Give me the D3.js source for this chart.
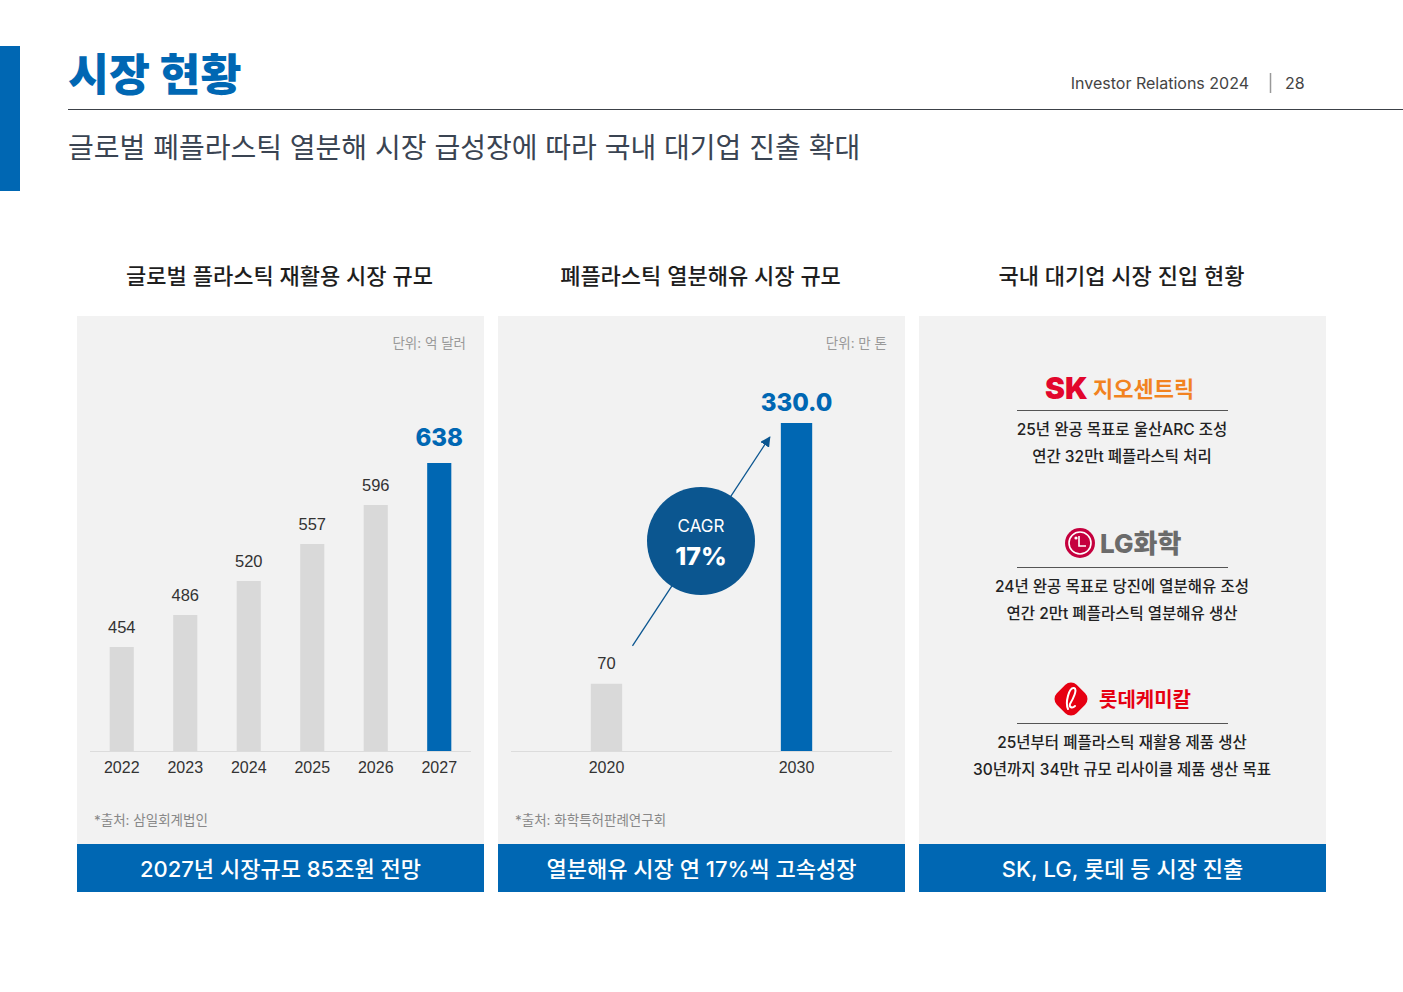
<!DOCTYPE html>
<html><head><meta charset="utf-8">
<script src="https://cdn.jsdelivr.net/npm/d3@7"></script>
<style>
html,body{margin:0;padding:0;background:#fff;}
svg{display:block;}
text{font-family:Inter,"Noto Sans CJK KR",sans-serif;}
</style></head>
<body>
<svg id="c" width="1403" height="992"></svg>
<script>
// ---- data ----
const years1 = ["2022","2023","2024","2025","2026","2027"];
const values1 = [454, 486, 520, 557, 596, 638];
const years2 = ["2020","2030"];
const values2 = [70, 330.0];
const panelTitles = ["글로벌 플라스틱 재활용 시장 규모", "폐플라스틱 열분해유 시장 규모", "국내 대기업 시장 진입 현황"];
const footers = ["2027년 시장규모 85조원 전망", "열분해유 시장 연 17%씩 고속성장", "SK, LG, 롯데 등 시장 진출"];
const units = ["단위: 억 달러", "단위: 만 톤"];
const sources = ["*출처: 삼일회계법인", "*출처: 화학특허판례연구회"];
const companies = [
  {name:"SK", lines:["25년 완공 목표로 울산ARC 조성","연간 32만t 폐플라스틱 처리"]},
  {name:"LG", lines:["24년 완공 목표로 당진에 열분해유 조성","연간 2만t 폐플라스틱 열분해유 생산"]},
  {name:"LOTTE", lines:["25년부터 폐플라스틱 재활용 제품 생산","30년까지 34만t 규모 리사이클 제품 생산 목표"]}
];

const BLUE = "#0067b3", DARK = "#0b5690", GREY = "#d9d9d9", PANEL = "#f2f2f2";
const svg = d3.select("#c");

// ---- header ----
svg.append("rect").attr("x",0).attr("y",46).attr("width",20).attr("height",145).attr("fill",BLUE);
svg.append("text").attr("x",68).attr("y",91).attr("font-size",44.5).attr("font-weight",800)
  .attr("fill",BLUE).text("시장 현황");
svg.append("line").attr("x1",68).attr("x2",1403).attr("y1",109.5).attr("y2",109.5).attr("stroke","#3c4148").attr("stroke-width",1.2);
svg.append("text").attr("x",68).attr("y",158).attr("font-size",28).attr("fill","#3a4452").text("글로벌 폐플라스틱 열분해 시장 급성장에 따라 국내 대기업 진출 확대");
svg.append("text").attr("x",1249).attr("y",89).attr("font-size",16).attr("fill","#444").attr("text-anchor","end").text("Investor Relations 2024");
svg.append("line").attr("x1",1270.5).attr("x2",1270.5).attr("y1",73).attr("y2",93).attr("stroke","#999").attr("stroke-width",1.5);
svg.append("text").attr("x",1285).attr("y",89).attr("font-size",16).attr("fill","#444").text("28");

// ---- panels ----
const panelX = [77, 498, 919], PW = 407;
panelX.forEach((px,i)=>{
  svg.append("text").attr("x",px+PW/2-1).attr("y",284).attr("text-anchor","middle").attr("font-size",22).attr("font-weight",500).attr("fill","#1e1e1e").text(panelTitles[i]);
  svg.append("rect").attr("x",px).attr("y",316).attr("width",PW).attr("height",576).attr("fill",PANEL);
  svg.append("rect").attr("x",px).attr("y",844).attr("width",PW).attr("height",48).attr("fill",BLUE);
  svg.append("text").attr("x",px+PW/2).attr("y",877).attr("text-anchor","middle").attr("font-size",22).attr("font-weight",500).attr("fill","#fff").text(footers[i]);
  if(i<2){
    svg.append("text").attr("x",px+389).attr("y",348).attr("text-anchor","end").attr("font-size",13.5).attr("fill","#999").text(units[i]);
    svg.append("text").attr("x",px+17).attr("y",825).attr("font-size",13.5).attr("fill","#888").text(sources[i]);
  }
});

// ---- chart 1 ----
const x1 = d3.scaleBand().domain(years1).range([90,471]).paddingInner(0.62).paddingOuter(0.31);
const y1 = d3.scaleLinear().domain([350,800]).range([751,301]);
const g1 = svg.append("g");
g1.selectAll("rect.b").data(values1).join("rect")
  .attr("x",(d,i)=>x1(years1[i])).attr("width",x1.bandwidth())
  .attr("y",d=>y1(d)).attr("height",d=>y1(350)-y1(d))
  .attr("fill",(d,i)=>i===values1.length-1?BLUE:GREY);
g1.selectAll("text.v").data(values1).join("text")
  .attr("x",(d,i)=>x1(years1[i])+x1.bandwidth()/2).attr("y",(d,i)=>i===values1.length-1?y1(d)-17:y1(d)-14)
  .attr("text-anchor","middle")
  .attr("font-size",(d,i)=>i===values1.length-1?24:16.5)
  .attr("font-weight",(d,i)=>i===values1.length-1?800:400)
  .attr("fill",(d,i)=>i===values1.length-1?BLUE:"#333")
  .style("font-family",(d,i)=>i===values1.length-1?null:"'Liberation Sans',Arial,sans-serif")
  .text(d=>d);
const ax1 = g1.append("g").attr("transform","translate(0,751)").call(d3.axisBottom(x1).tickSize(0).tickPadding(11));
ax1.select(".domain").attr("stroke","#dcdcdc").attr("d","M90,0.5H471");
ax1.selectAll("text").attr("font-size",16).attr("fill","#333").style("font-family","'Liberation Sans',Arial,sans-serif");

// ---- chart 2 ----
const x2 = d3.scaleBand().domain(years2).range([511,892]).paddingInner(0.835).paddingOuter(0.42);
const y2 = d3.scaleLinear().domain([3,330]).range([751,423]);
const g2 = svg.append("g");
g2.selectAll("rect.b").data(values2).join("rect")
  .attr("x",(d,i)=>x2(years2[i])).attr("width",x2.bandwidth())
  .attr("y",d=>y2(d)).attr("height",d=>y2(3)-y2(d))
  .attr("fill",(d,i)=>i===values2.length-1?BLUE:GREY);
g2.selectAll("text.v").data(values2).join("text")
  .attr("x",(d,i)=>x2(years2[i])+x2.bandwidth()/2).attr("y",(d,i)=>i===values2.length-1?y2(d)-12:y2(d)-15)
  .attr("text-anchor","middle")
  .attr("font-size",(d,i)=>i===values2.length-1?24:16.5)
  .attr("font-weight",(d,i)=>i===values2.length-1?800:400)
  .attr("fill",(d,i)=>i===values2.length-1?BLUE:"#333")
  .style("font-family",(d,i)=>i===values2.length-1?null:"'Liberation Sans',Arial,sans-serif")
  .text((d,i)=>i===values2.length-1?d.toFixed(1):d);
const ax2 = g2.append("g").attr("transform","translate(0,751)").call(d3.axisBottom(x2).tickSize(0).tickPadding(11));
ax2.select(".domain").attr("stroke","#dcdcdc").attr("d","M511,0.5H892");
ax2.selectAll("text").attr("font-size",16).attr("fill","#333").style("font-family","'Liberation Sans',Arial,sans-serif");

// arrow + CAGR
const defs = svg.append("defs");
defs.append("marker").attr("id","ah").attr("viewBox","0 0 10 10").attr("refX",9).attr("refY",5)
  .attr("markerWidth",8).attr("markerHeight",8).attr("orient","auto")
  .append("path").attr("d","M0,0L10,5L0,10z").attr("fill",DARK);
const ax0 = x2(years2[0])+x2.bandwidth()/2+26, ay0 = y2(values2[0])-38;
const ax1e = x2(years2[1])-11, ay1e = y2(values2[1])+14;
svg.append("line").attr("x1",ax0).attr("y1",ay0).attr("x2",ax1e).attr("y2",ay1e)
  .attr("stroke",DARK).attr("stroke-width",1.3).attr("marker-end","url(#ah)");
svg.append("circle").attr("cx",701).attr("cy",541).attr("r",54).attr("fill",DARK);
svg.append("text").attr("x",701).attr("y",532).attr("text-anchor","middle").attr("font-size",17).attr("fill","#fff").text("CAGR");
svg.append("text").attr("x",701).attr("y",565).attr("text-anchor","middle").attr("font-size",25).attr("font-weight",800).attr("fill","#fff").text("17%");

// ---- panel 3 ----
const cx3 = 1122;
const logoY = [388, 543, 699], divY = [410.5, 567.5, 723.5];
companies.forEach((c,i)=>{
  svg.append("line").attr("x1",1017).attr("x2",1228).attr("y1",divY[i]).attr("y2",divY[i]).attr("stroke","#555").attr("stroke-width",1);
  c.lines.forEach((l,j)=>{
    svg.append("text").attr("x",cx3).attr("y",divY[i]+24+j*27).attr("text-anchor","middle").attr("font-size",15.5).attr("font-weight",500).attr("fill","#222").text(l);
  });
});
// SK logo
svg.append("text").attr("x",1045).attr("y",logoY[0]+11).attr("font-size",30).attr("font-weight",900).attr("fill","#e2062c").text("SK");
svg.append("text").attr("x",1093).attr("y",logoY[0]+9).attr("font-size",22).attr("font-weight",600).attr("fill","#f2831f").text("지오센트릭");
// LG logo
const lg = svg.append("g").attr("transform",`translate(1080,${logoY[1]})`);
lg.append("circle").attr("r",15).attr("fill","#c5003e");
lg.append("circle").attr("r",11).attr("fill","none").attr("stroke","#fff").attr("stroke-width",1.6);
lg.append("circle").attr("cx",-4).attr("cy",-5).attr("r",1.6).attr("fill","#fff");
lg.append("path").attr("d","M-1,-7V3H6").attr("fill","none").attr("stroke","#fff").attr("stroke-width",1.6);
svg.append("text").attr("x",1100).attr("y",logoY[1]+10).attr("font-size",26).attr("font-weight",800).attr("fill","#6b6b6b").text("LG화학");
// Lotte logo
const lt = svg.append("g").attr("transform",`translate(1071,${logoY[2]})`);
lt.append("rect").attr("x",-14).attr("y",-14).attr("width",28).attr("height",28).attr("rx",8)
  .attr("transform","rotate(45)").attr("fill","#e60012");
lt.append("path").attr("d","M-3,10C-6,4 -2,-12 3,-11C7,-10 2,0 -1,5C-2,8 1,10 4,7").attr("fill","none").attr("stroke","#fff").attr("stroke-width",2).attr("stroke-linecap","round");
svg.append("text").attr("x",1099).attr("y",logoY[2]+8).attr("font-size",20).attr("font-weight",700).attr("fill","#e60012").text("롯데케미칼");
</script>
</body></html>
